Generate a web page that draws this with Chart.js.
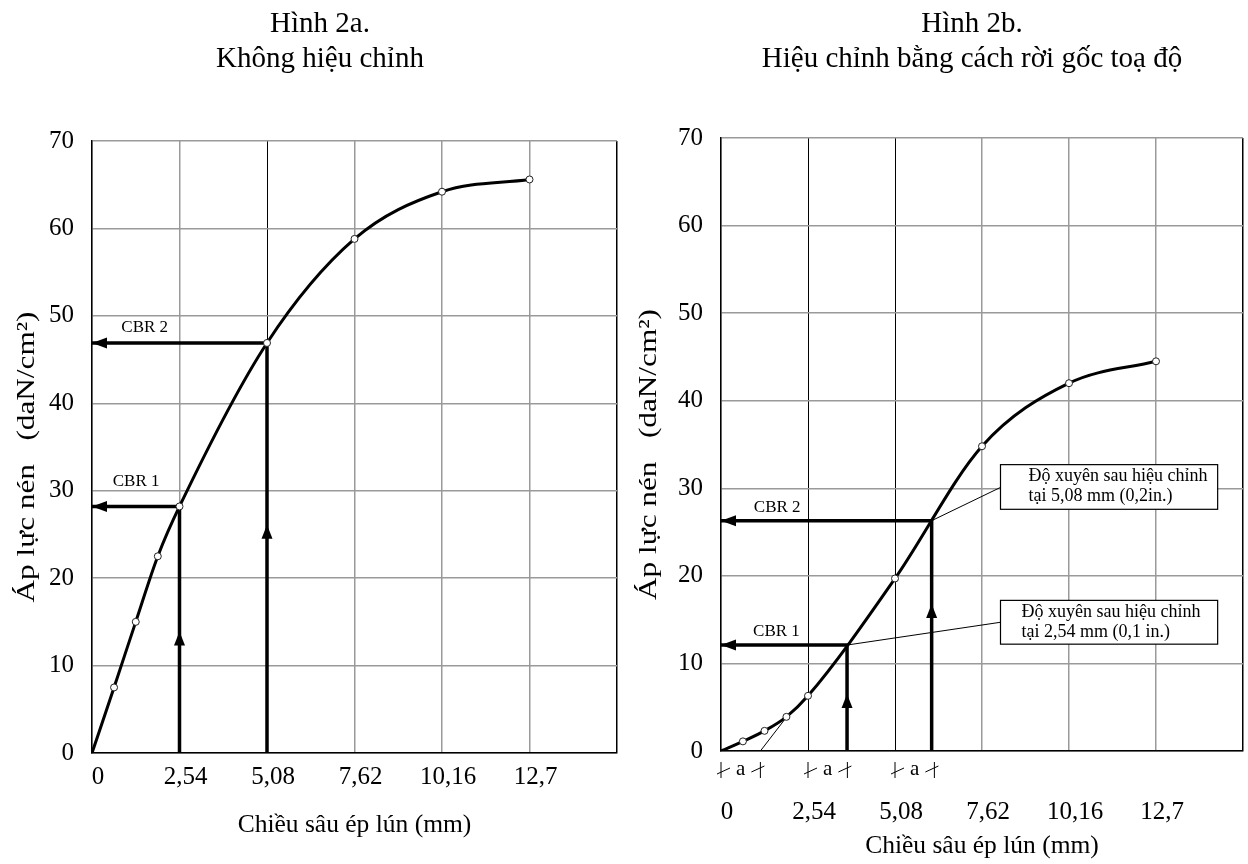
<!DOCTYPE html>
<html>
<head>
<meta charset="utf-8">
<script src="https://cdn.jsdelivr.net/npm/chart.js@4.4.1/dist/chart.umd.min.js"></script>
<style>
  html, body { margin: 0; padding: 0; background: #fff; }
  body { width: 1248px; height: 864px; position: relative; overflow: hidden; font-family: "Liberation Serif", "Times New Roman", serif; }
  .title { position: absolute; top: 5px; width: 560px; text-align: center; font-size: 29px; line-height: 35px; color: #000; }
  #wrapA { position: absolute; left: 0; top: 0; width: 640px; height: 864px; }
  #wrapB { position: absolute; left: 620px; top: 0; width: 628px; height: 864px; }
</style>
</head>
<body>
<div id="wrapA"><canvas id="chartA"></canvas></div>
<div id="wrapB"><canvas id="chartB"></canvas></div>
<div class="title" style="left:40px">Hình 2a.<br>Không hiệu chỉnh</div>
<div class="title" style="left:692px">Hình 2b.<br>Hiệu chỉnh bằng cách rời gốc toạ độ</div>
<script>
// depth (mm) and pressure (daN/cm2)
const depthMm = [0, 0.64, 1.27, 1.91, 2.54, 5.08, 7.62, 10.16, 12.7]
const pressureRaw = [0, 7.5, 15.0, 22.5, 28.2, 46.9, 58.8, 64.2, 65.6]
const pressureCorrected = [0, 1.1, 2.3, 3.9, 6.3, 19.7, 34.8, 42.0, 44.5]

const xTickValues = [0, 2.54, 5.08, 7.62, 10.16, 12.7, 15.24]
const xTickLabels = ['0', '2,54', '5,08', '7,62', '10,16', '12,7', '']
const yTickValues = [0, 10, 20, 30, 40, 50, 60, 70]
const yTitle = 'Áp lực nén   (daN/cm²)'

const cbrLabels = ['CBR 1', 'CBR 2']
const cbrDepthA = [2.54, 5.08]
const cbrPressureA = [28.2, 46.9]
const cbrArrowA = [13.9, 26.1]
const cbrDepthB = [3.68, 6.15]
const cbrPressureB = [12.1, 26.3]
const cbrArrowB = [6.5, 16.8]

const shiftStart = [0, 2.54, 5.08]
const shiftA = 1.15
const tangentDepth = [1.15, 1.88]
const tangentPressure = [0, 3.7]
const noteLines = [
  ['Độ xuyên sau hiệu chỉnh', 'tại 2,54 mm (0,1 in.)'],
  ['Độ xuyên sau hiệu chỉnh', 'tại 5,08 mm (0,2in.)']
]

const FONT = '"Liberation Serif", "Times New Roman", serif'
Chart.defaults.font.family = FONT
Chart.defaults.color = '#000'

const pts = (xs, ys) => xs.map((v, i) => ({x: v, y: ys[i]}))

function curveSet(pressure){
  return {
    data: pts(depthMm, pressure),
    borderColor: '#000',
    borderWidth: 3,
    cubicInterpolationMode: 'monotone',
    pointRadius: c => c.dataIndex === 0 ? 0 : 3.5,
    pointBackgroundColor: '#fff',
    pointBorderColor: '#222',
    pointBorderWidth: 1,
    order: 0
  }
}

function cbrSets(depths, pressures){
  return depths.map((d, i) => ({
    data: [{x: 0, y: pressures[i]}, {x: d, y: pressures[i]}, {x: d, y: 0}],
    borderColor: '#000',
    borderWidth: 3.5,
    pointRadius: 0,
    tension: 0,
    order: 1
  }))
}

function thinSet(data){
  return {data, borderColor: '#000', borderWidth: 1, pointRadius: 0, tension: 0, order: 2}
}

// arrowheads, labels, note boxes, the "a" marks and the stretched y title
const sketchPlugin = {
  id: 'sketch',
  afterDatasetsDraw(chart, args, o){
    const {ctx, chartArea, scales: {x, y}} = chart
    ctx.save()
    ctx.fillStyle = '#000'
    ctx.strokeStyle = '#000'
    const x0 = x.getPixelForValue(0)
    o.depths.forEach((d, i) => {
      const py = y.getPixelForValue(o.pressures[i])
      ctx.beginPath()
      ctx.moveTo(x0, py)
      ctx.lineTo(x0 + 15, py - 5.5)
      ctx.lineTo(x0 + 15, py + 5.5)
      ctx.closePath()
      ctx.fill()
      const px = x.getPixelForValue(d)
      const ty = y.getPixelForValue(o.arrows[i])
      ctx.beginPath()
      ctx.moveTo(px, ty)
      ctx.lineTo(px - 5.5, ty + 14)
      ctx.lineTo(px + 5.5, ty + 14)
      ctx.closePath()
      ctx.fill()
    })
    ctx.font = '17px ' + FONT
    ctx.textAlign = 'center'
    ctx.textBaseline = 'middle'
    cbrLabels.forEach((t, i) => {
      const at = o.labelAt[i]
      ctx.fillText(t, x.getPixelForValue(at[0]), y.getPixelForValue(at[1]))
    })
    if (o.notes){
      o.notes.forEach((n, i) => {
        const l = x.getPixelForValue(n.x0), r = x.getPixelForValue(n.x1)
        const t = y.getPixelForValue(n.y1), b = y.getPixelForValue(n.y0)
        ctx.fillStyle = '#fff'
        ctx.fillRect(l, t, r - l, b - t)
        ctx.lineWidth = 1.2
        ctx.strokeRect(l, t, r - l, b - t)
        ctx.fillStyle = '#000'
        ctx.font = '18px ' + FONT
        ctx.textAlign = 'left'
        noteLines[i].forEach((line, k) => ctx.fillText(line, l + n.indent, t + 11.5 + k * 20))
      })
    }
    if (o.shifts){
      const yy = y.getPixelForValue(0) + 19
      ctx.lineWidth = 1
      ctx.font = '21px ' + FONT
      ctx.textAlign = 'center'
      shiftStart.forEach(s => {
        const a = x.getPixelForValue(s), b = x.getPixelForValue(s + shiftA)
        ctx.beginPath()
        ctx.moveTo(a, yy - 8); ctx.lineTo(a, yy + 8)
        ctx.moveTo(b, yy - 8); ctx.lineTo(b, yy + 8)
        ctx.moveTo(a - 4, yy + 4); ctx.lineTo(a + 9, yy - 2)
        ctx.moveTo(b - 9, yy + 2); ctx.lineTo(b + 4, yy - 4)
        ctx.stroke()
        ctx.fillText('a', (a + b) / 2, yy - 1)
      })
    }
    // y axis title, drawn a little stretched along its length like the scan
    ctx.translate(o.yTitleX, (chartArea.top + chartArea.bottom) / 2 + 10)
    ctx.rotate(-Math.PI / 2)
    ctx.scale(1.25, 1)
    ctx.font = '25px ' + FONT
    ctx.textAlign = 'center'
    ctx.fillStyle = '#000'
    ctx.fillText(yTitle, 0, 0)
    ctx.restore()
  }
}

function makeChart(id, cfg){
  return new Chart(document.getElementById(id), {
    type: 'line',
    data: {datasets: cfg.datasets},
    options: {
      responsive: true,
      maintainAspectRatio: false,
      animation: false,
      layout: {padding: cfg.padding},
      plugins: {legend: {display: false}, tooltip: {enabled: false}, sketch: cfg.sketch},
      scales: {
        x: {
          type: 'linear', min: 0, max: 15.24,
          afterBuildTicks: s => { s.ticks = xTickValues.map(v => ({value: v})) },
          afterFit: s => { s.height = cfg.xHeight; s.paddingLeft = 0; s.paddingRight = 0 },
          ticks: {autoSkip: false, maxRotation: 0, padding: cfg.xTickPad, labelOffset: 6,
                  font: {size: 25}, callback: (v, i) => xTickLabels[i]},
          grid: {drawTicks: false,
                 color: c => cfg.darkGrid.includes(c.tick && c.tick.value) ? '#000' : '#9a9a9a',
                 lineWidth: c => (c.tick && c.tick.value === 15.24) ? 1.5 : (cfg.darkGrid.includes(c.tick && c.tick.value) ? 1 : 1.5)},
          border: {color: '#000', width: 1.5},
          title: {display: true, text: 'Chiều sâu ép lún (mm)', font: {size: 25.5}, padding: {top: 0, bottom: cfg.xTitlePad}}
        },
        y: {
          min: 0, max: 70,
          afterBuildTicks: s => { s.ticks = yTickValues.map(v => ({value: v})) },
          afterFit: s => { s.width = cfg.yWidth },
          ticks: {padding: 18, font: {size: 25}},
          grid: {drawTicks: false, color: '#9a9a9a', lineWidth: 1.5},
          border: {color: '#000', width: 1.5},
          title: {display: false}
        }
      }
    },
    plugins: [sketchPlugin]
  })
}

makeChart('chartA', {
  datasets: [curveSet(pressureRaw), ...cbrSets(cbrDepthA, cbrPressureA)],
  padding: {top: 141, right: 23, left: 0, bottom: 0},
  xHeight: 111, yWidth: 92, xTickPad: 9, xTitlePad: 23,
  darkGrid: [5.08, 15.24],
  sketch: {depths: cbrDepthA, pressures: cbrPressureA, arrows: cbrArrowA, yTitleX: 27,
           labelAt: [[1.28, 31.0], [1.53, 48.7]]}
})

makeChart('chartB', {
  datasets: [
    curveSet(pressureCorrected),
    ...cbrSets(cbrDepthB, cbrPressureB),
    thinSet(pts(tangentDepth, tangentPressure)),
    thinSet([{x: 8.16, y: 14.7}, {x: cbrDepthB[0], y: cbrPressureB[0]}]),
    thinSet([{x: 8.16, y: 30.1}, {x: cbrDepthB[1], y: cbrPressureB[1]}])
  ],
  padding: {top: 138, right: 2.5, left: 0, bottom: 0},
  xHeight: 113, yWidth: 101, xTickPad: 46, xTitlePad: 2,
  darkGrid: [2.54, 5.08, 15.24],
  sketch: {depths: cbrDepthB, pressures: cbrPressureB, arrows: cbrArrowB, yTitleX: 29,
           labelAt: [[1.62, 13.6], [1.64, 27.85]],
           notes: [{x0: 8.16, x1: 14.5, y0: 12.2, y1: 17.2, indent: 21},
                   {x0: 8.16, x1: 14.5, y0: 27.6, y1: 32.7, indent: 28}],
           shifts: true}
})
</script>
</body>
</html>
